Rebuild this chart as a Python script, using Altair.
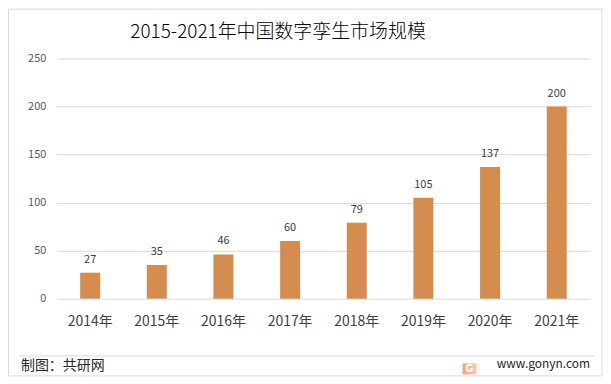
import altair as alt
import pandas as pd

years = ["2014年", "2015年", "2016年", "2017年", "2018年", "2019年", "2020年", "2021年"]
values = [27, 35, 46, 60, 79, 105, 137, 200]
y_ticks = [0, 50, 100, 150, 200, 250]
title_text = "2015-2021年中国数字孪生市场规模"
source_text = "制图：共研网"
site_text = "www.gonyn.com"

FONT = "Noto Sans CJK SC"
BAR = "#D48D4E"
GRID = "#D9D9D9"
TXT = "#404040"

df = pd.DataFrame({"year": years, "value": values})
one = alt.Data(values=[{"a": 1}])

W, H = 535, 241
PL, PT = 49, 50
SVG_H = 369

x_enc = alt.X(
    "year:N",
    sort=years,
    title=None,
    scale=alt.Scale(paddingInner=0.7, paddingOuter=0.35),
    axis=alt.Axis(labelAngle=0, ticks=False, domain=False, labelFontSize=14,
                  labelFont=FONT, labelColor=TXT, labelPadding=16),
)
y_enc = alt.Y(
    "value:Q",
    title=None,
    scale=alt.Scale(domain=[0, 250], nice=False),
    axis=alt.Axis(values=y_ticks, ticks=False, domain=False, grid=True,
                  gridColor=GRID, labelFontSize=11, labelFont=FONT,
                  labelColor="#595959", labelPadding=11),
)

bars = alt.Chart(df).mark_bar(color=BAR).encode(x=x_enc, y=y_enc)
labels = alt.Chart(df).mark_text(
    baseline="bottom", dy=-8, fontSize=11, font=FONT, color=TXT
).encode(x=alt.X("year:N", sort=years), y="value:Q", text="value:Q")

border = alt.Chart(one).mark_rect(fill=None, stroke=GRID, strokeWidth=1).encode(
    x=alt.value(-PL + 0.5), x2=alt.value(596 - PL),
    y=alt.value(-PT + 0.5), y2=alt.value(SVG_H - 0.5 - PT),
)
sep = alt.Chart(one).mark_rule(color=GRID, strokeWidth=1).encode(
    x=alt.value(11 - PL), x2=alt.value(589 - PL), y=alt.value(348.5 - PT)
)
title = alt.Chart(one).mark_text(
    text=title_text, fontSize=19, font=FONT, fontWeight=300, color="#000000",
    align="center", baseline="middle"
).encode(x=alt.value(271 - PL), y=alt.value(23 - PT))
src = alt.Chart(one).mark_text(
    text=source_text, fontSize=14, font=FONT, color="#262626",
    align="left", baseline="middle"
).encode(x=alt.value(13 - PL), y=alt.value(359 - PT))
site = alt.Chart(one).mark_text(
    text=site_text, fontSize=12, font=FONT, color="#262626",
    align="right", baseline="middle"
).encode(x=alt.value(584 - PL), y=alt.value(357 - PT))
logo = alt.Chart(one).mark_rect(
    fill=alt.Gradient(gradient="linear",
                      stops=[alt.GradientStop(color="#F7A466", offset=0),
                             alt.GradientStop(color="#F8C8B8", offset=1)],
                      x1=0, x2=1, y1=0, y2=0)
).encode(x=alt.value(456 - PL), x2=alt.value(470 - PL),
         y=alt.value(356 - PT), y2=alt.value(367 - PT))
logo_g = alt.Chart(one).mark_text(
    text="G", fontSize=10, font="DejaVu Sans", fontWeight="bold", color="#FFFFFF",
    align="center", baseline="middle"
).encode(x=alt.value(463 - PL), y=alt.value(361.5 - PT))

chart = alt.layer(border, sep, bars, labels, title, src, site, logo, logo_g).properties(
    width=W, height=H,
    autosize=alt.AutoSizeParams(type="none"),
    padding={"left": PL, "top": PT, "right": 597 - PL - W, "bottom": SVG_H - PT - H},
    background="#FFFFFF",
).configure_view(stroke=None)

chart.save("out.html", embed_options={"renderer": "svg", "actions": False})
